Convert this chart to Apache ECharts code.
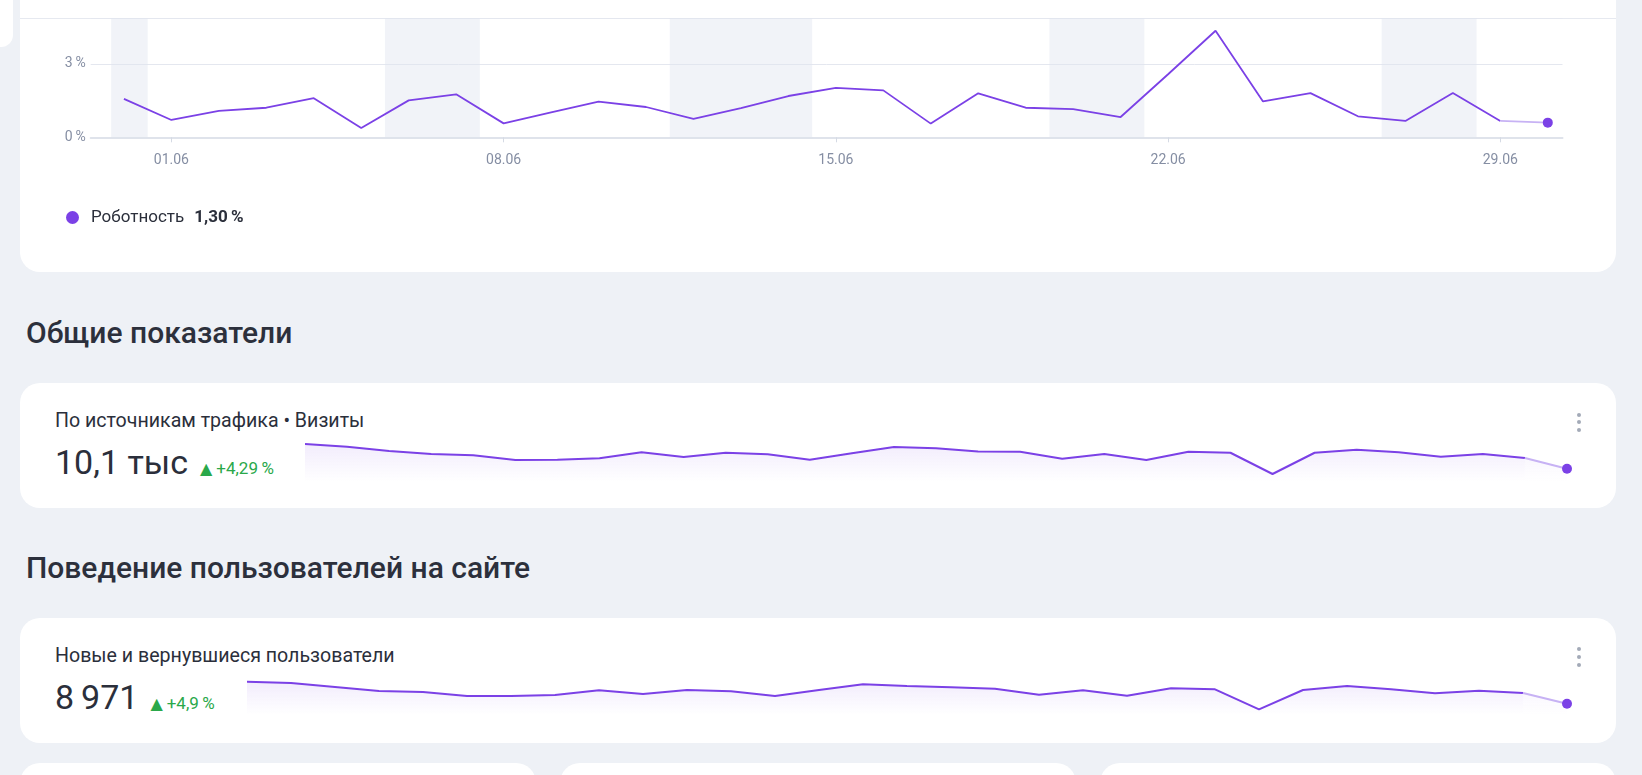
<!DOCTYPE html>
<html><head><meta charset="utf-8">
<script src="https://cdn.jsdelivr.net/npm/echarts@6/dist/echarts.min.js"></script>
<style>
html,body{margin:0;padding:0;width:1642px;height:775px;overflow:hidden;background:#eef1f6;font-family:Roboto,"Noto Sans",sans-serif;color:#2b2f3b;}
.card{position:absolute;background:#fff;border-radius:20px;}
.h{position:absolute;left:26px;font-size:30px;font-weight:500;line-height:30px;color:#2c303c;white-space:nowrap;}
.title{position:absolute;left:55px;font-size:19.6px;line-height:19.6px;white-space:nowrap;color:#2b2f3b;}
.kpi{position:absolute;left:55px;display:flex;align-items:baseline;line-height:1;white-space:nowrap;}
.big{font-size:34px;color:#2b2f3b;}
.delta{font-size:17px;color:#2aa84a;margin-left:12px;}
.tri{font-family:"DejaVu Sans",sans-serif;font-size:16px;margin-right:4px;}
.dot{position:absolute;width:4px;height:4px;border-radius:2px;background:#a3aab8;left:1577px;}
.chart{position:absolute;}
</style>
</head>
<body>
<div style="position:absolute;left:0;top:-20px;width:13px;height:67px;background:#fff;border-bottom-right-radius:12px;"></div>
<div class="card" style="left:20px;top:-40px;width:1596px;height:312px;"></div>
<div style="position:absolute;left:20px;top:18px;width:1596px;height:1px;background:#e6e9f0;"></div>
<div id="topChart" class="chart" style="left:20px;top:0;width:1596px;height:272px;"></div>

<div class="h" style="top:318px;">Общие показатели</div>
<div class="card" style="left:20px;top:383px;width:1596px;height:125px;"></div>
<div class="title" style="top:411px;">По источникам трафика • Визиты</div>
<div class="kpi" style="top:445px;"><span class="big">10,1 тыс</span><span class="delta"><span class="tri">▲</span>+4,29&#8201;%</span></div>
<div class="dot" style="top:413px;"></div><div class="dot" style="top:420px;"></div><div class="dot" style="top:428px;"></div>
<div id="spark1" class="chart" style="left:305px;top:420px;width:1270px;height:62px;"></div>

<div class="h" style="top:553px;">Поведение пользователей на сайте</div>
<div class="card" style="left:20px;top:618px;width:1596px;height:125px;"></div>
<div class="title" style="top:646px;">Новые и вернувшиеся пользователи</div>
<div class="kpi" style="top:680px;"><span class="big">8&#8201;971</span><span class="delta"><span class="tri">▲</span>+4,9&#8201;%</span></div>
<div class="dot" style="top:647px;"></div><div class="dot" style="top:655px;"></div><div class="dot" style="top:663px;"></div>
<div id="spark2" class="chart" style="left:247px;top:660px;width:1328px;height:55px;"></div>

<div class="card" style="left:20px;top:763px;width:516px;height:60px;"></div>
<div class="card" style="left:560px;top:763px;width:516px;height:60px;"></div>
<div class="card" style="left:1100px;top:763px;width:516px;height:60px;"></div>

<script>
// ---- data ----
const dayLabels = ['31.05','01.06','02.06','03.06','04.06','05.06','06.06','07.06','08.06','09.06','10.06',
  '11.06','12.06','13.06','14.06','15.06','16.06','17.06','18.06','19.06','20.06',
  '21.06','22.06','23.06','24.06','25.06','26.06','27.06','28.06','29.06','30.06'];
const labelledDays = [1, 8, 15, 22, 29];
const yTickValues = [0, 3];
const robotnessName = 'Роботность';
const robotnessTotal = '1,30\u2009%';
const robotnessPct = [1.57,0.71,1.08,1.21,1.60,0.38,1.51,1.76,0.57,1.02,1.46,1.24,0.75,1.19,1.69,2.02,
  1.92,0.56,1.80,1.21,1.15,0.83,2.58,4.36,1.47,1.81,0.86,0.67,1.81,0.67,0.60];
const weekendRanges = [[-0.27,0.5],[5.5,7.5],[11.5,14.5],[19.5,21.5],[26.5,28.5]];
const visits = [384,373,356,344,339,320,321,327,351,332,349,343,321,347,372,367,
  354,353,325,344,320,353,349,264,349,361,351,333,344,328,285];
const users = [321,317,305,293,290,278,278,281,295,284,296,292,278,296,313,308,
  304,300,282,295,279,301,298,238,296,308,298,286,294,287,255];

// ---- styles ----
const PURPLE = '#7b41e6';
const PURPLE_LIGHT = '#c7b2f4';
const FONT = 'Roboto';

function solid(values){ return values.slice(0, values.length - 1).map((v, i) => [i, v]); }
function tail(values, size){
  const n = values.length;
  return [{value:[n-2, values[n-2]], symbol:'none'},
          {value:[n-1, values[n-1]], symbol:'circle', symbolSize:size}];
}
function grad(a){
  return new echarts.graphic.LinearGradient(0,0,0,1,[
    {offset:0,color:'rgba(123,65,230,'+a+')'},{offset:1,color:'rgba(123,65,230,0)'}]);
}

const chartTop = echarts.init(document.getElementById('topChart'));
chartTop.setOption({
  animation:false,
  grid:{left:70.7,right:53.5,top:18.3,bottom:134.7},
  xAxis:{type:'value',min:-0.70,max:30.31,
    axisLine:{onZero:true,lineStyle:{color:'#dfe3eb',width:2}},
    axisTick:{show:true,customValues:labelledDays,length:5,lineStyle:{color:'#d5dae4'}},
    axisLabel:{customValues:labelledDays,formatter:v=>dayLabels[Math.round(v)]||'',margin:16,
      color:'#858ea3',fontSize:14,fontFamily:FONT},
    splitLine:{show:false}},
  yAxis:{type:'value',min:0,max:4.87,interval:3,
    axisLine:{show:false},axisTick:{show:false},
    axisLabel:{formatter:v=>yTickValues.includes(v)?(v+'\u2009%'):'',margin:5,color:'#858ea3',fontSize:14,fontFamily:FONT,
      padding:[3,0,0,0]},
    splitLine:{lineStyle:{color:'#e4e7ef',width:1}}},
  legend:{left:46,top:209,padding:0,itemWidth:13,itemHeight:13,icon:'circle',selectedMode:false,
    data:[{name:robotnessName,itemStyle:{color:PURPLE}}],
    formatter:name=>'{a|'+name+'}{b|'+robotnessTotal+'}',
    textStyle:{padding:[0,0,0,7],rich:{
      a:{fontSize:17,color:'#2b2f3b',fontFamily:FONT},
      b:{fontSize:17,fontWeight:'bold',color:'#2b2f3b',fontFamily:FONT,padding:[0,0,0,10]}}}},
  series:[
    {type:'line',name:'weekends',data:solid(robotnessPct),symbol:'none',lineStyle:{opacity:0},z:1,silent:true,
      markArea:{silent:true,itemStyle:{color:'rgba(225,229,240,0.45)'},
        data:weekendRanges.map(r=>[{xAxis:r[0]},{xAxis:r[1]}])}},
    {type:'line',name:robotnessName,data:solid(robotnessPct),symbol:'none',z:3,
      lineStyle:{color:PURPLE,width:1.8},itemStyle:{color:PURPLE}},
    {type:'line',name:'tail',data:tail(robotnessPct,10),showSymbol:true,z:3,
      lineStyle:{color:PURPLE_LIGHT,width:1.8},itemStyle:{color:PURPLE}}
  ]
});

function sparkOption(values, yMin, yMax){
  const n = values.length;
  return {
    animation:false,
    grid:{left:0,right:8,top:0,bottom:0},
    xAxis:{type:'value',min:0,max:n-1,show:false},
    yAxis:{type:'value',min:yMin,max:yMax,show:false},
    series:[
      {type:'line',data:solid(values),symbol:'none',z:3,
        lineStyle:{color:PURPLE,width:2},areaStyle:{color:grad(0.14)}},
      {type:'line',data:tail(values,10),showSymbol:true,z:3,
        lineStyle:{color:PURPLE_LIGHT,width:2},itemStyle:{color:PURPLE},areaStyle:{color:grad(0.06)}}
    ]
  };
}
echarts.init(document.getElementById('spark1')).setOption(sparkOption(visits, 232, 480));
echarts.init(document.getElementById('spark2')).setOption(sparkOption(users, 221, 386));
</script>
</body></html>
